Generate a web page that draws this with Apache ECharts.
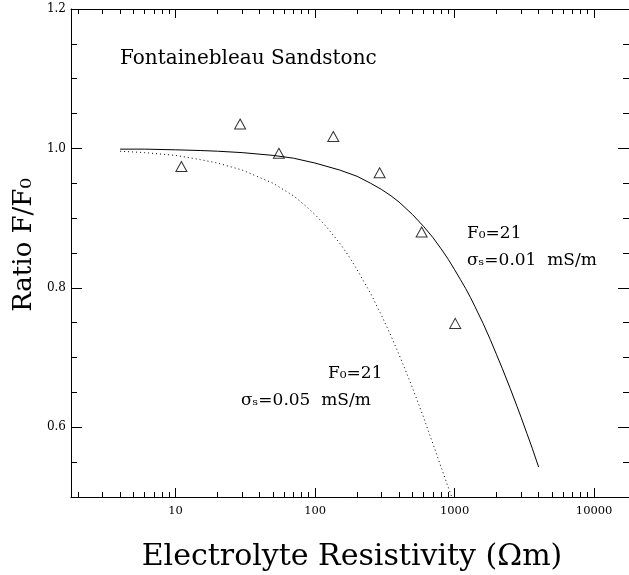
<!DOCTYPE html>
<html>
<head>
<meta charset="utf-8">
<script src="https://cdn.jsdelivr.net/npm/echarts@6/dist/echarts.min.js"></script>
<style>
  html, body { margin: 0; padding: 0; background: #fff; }
  #chart { width: 629px; height: 575px; }
</style>
</head>
<body>
<div id="chart"></div>
<script>
// ---- Data ----
// Measured ratio F/F0 (open triangles)
var measuredX = [11, 29, 55, 135, 290, 580, 1010];
var measuredY = [0.974, 1.035, 0.993, 1.017, 0.965, 0.880, 0.749];

// Solid curve: F0=21, sigma_s = 0.01 mS/m
var curve1X = [4, 6, 10, 15, 20, 30, 50, 70, 100, 150, 200, 250, 300, 350, 400, 500, 600, 700, 800, 900, 1000, 1100, 1200, 1300, 1400, 1600, 1800, 2000, 2200, 2500, 2800, 3000, 3300, 3600, 4000];
var curve1Y = [0.999, 0.999, 0.998, 0.997, 0.996, 0.994, 0.990, 0.986, 0.979, 0.969, 0.960, 0.950, 0.941, 0.932, 0.923, 0.905, 0.888, 0.872, 0.856, 0.841, 0.826, 0.812, 0.799, 0.786, 0.773, 0.749, 0.726, 0.704, 0.684, 0.656, 0.630, 0.614, 0.591, 0.570, 0.543];

// Dotted curve: F0=21, sigma_s = 0.05 mS/m
var curve2X = [4, 6, 10, 15, 20, 30, 50, 70, 85, 100, 120, 150, 175, 200, 250, 300, 350, 400, 450, 500, 550, 600, 650, 700, 750, 800, 850, 900, 950];
var curve2Y = [0.996, 0.994, 0.990, 0.984, 0.979, 0.969, 0.950, 0.932, 0.918, 0.905, 0.888, 0.864, 0.845, 0.826, 0.792, 0.760, 0.731, 0.704, 0.679, 0.656, 0.634, 0.614, 0.594, 0.576, 0.559, 0.543, 0.528, 0.514, 0.501];

// Axis ticks
var xMajorTicks = [10, 100, 1000, 10000];
var xMinorTicks = [2, 3, 4, 5, 6, 7, 8, 9, 20, 30, 40, 50, 60, 70, 80, 90,
                   200, 300, 400, 500, 600, 700, 800, 900,
                   2000, 3000, 4000, 5000, 6000, 7000, 8000, 9000];
var yMajorTicks = [0.6, 0.8, 1.0, 1.2];
var yMinorTicks = [0.55, 0.65, 0.7, 0.75, 0.85, 0.9, 0.95, 1.05, 1.1, 1.15];

var xMin = 1.7783, xMax = 17783;
var yMin = 0.5, yMax = 1.2;

var FONT = 'DejaVu Serif';

function zip(xs, ys) { return xs.map(function (x, i) { return [x, ys[i]]; }); }

var chart = echarts.init(document.getElementById('chart'), null, { renderer: 'canvas' });

function xAx(pos, ticks, len, showLine, showLabel) {
  return {
    type: 'log', logBase: 10, min: xMin, max: xMax, position: pos, gridIndex: 0,
    axisLine: { show: showLine, lineStyle: { color: '#000', width: 1 } },
    axisTick: { show: true, inside: true, length: len, customValues: ticks, lineStyle: { color: '#000', width: 1 } },
    axisLabel: { show: showLabel, customValues: xMajorTicks, margin: 8, color: '#000', fontFamily: FONT, fontSize: 11.5,
      formatter: function (v) { return String(Math.round(v)); } },
    splitLine: { show: false }, minorTick: { show: false }
  };
}
function yAx(pos, ticks, len, showLine, showLabel) {
  return {
    type: 'value', min: yMin, max: yMax, interval: 0.1, position: pos, gridIndex: 0,
    axisLine: { show: showLine, lineStyle: { color: '#000', width: 1 } },
    axisTick: { show: true, inside: true, length: len, customValues: ticks, lineStyle: { color: '#000', width: 1 } },
    axisLabel: { show: showLabel, customValues: yMajorTicks, margin: 5, color: '#000', fontFamily: FONT, fontSize: 12,
      formatter: function (v) { return v.toFixed(1); } },
    splitLine: { show: false }
  };
}

var option = {
  animation: false,
  backgroundColor: '#fff',
  grid: { left: 71, top: 9, width: 560, height: 488, containLabel: false },
  xAxis: [
    xAx('bottom', xMajorTicks, 9, true, true),
    xAx('bottom', xMinorTicks, 5, false, false),
    xAx('top', xMajorTicks, 9, true, false),
    xAx('top', xMinorTicks, 5, false, false)
  ],
  yAxis: [
    yAx('left', yMajorTicks, 11, true, true),
    yAx('left', yMinorTicks, 6, false, false),
    yAx('right', yMajorTicks, 11, true, false),
    yAx('right', yMinorTicks, 6, false, false)
  ],
  series: [
    {
      type: 'line', xAxisIndex: 0, yAxisIndex: 0,
      data: zip(curve1X, curve1Y), showSymbol: false, smooth: false,
      lineStyle: { color: '#000', width: 1 }
    },
    {
      type: 'line', xAxisIndex: 0, yAxisIndex: 0,
      data: zip(curve2X, curve2Y), showSymbol: false, smooth: false,
      lineStyle: { color: '#000', width: 1, type: [1, 3] }
    },
    {
      type: 'scatter', xAxisIndex: 0, yAxisIndex: 0,
      data: zip(measuredX, measuredY), symbol: 'triangle', symbolSize: [11, 10],
      itemStyle: { color: '#fff', borderColor: '#000', borderWidth: 1 }
    }
  ],
  graphic: [
    { type: 'text', left: 120, top: 49, style: { text: 'Fontainebleau Sandstonc', font: '20px "DejaVu Serif"', fill: '#000' } },
    { type: 'text', left: 467, top: 225, style: { text: 'F\u2080=21', font: '17px "DejaVu Serif"', fill: '#000' } },
    { type: 'text', left: 467, top: 252, style: { text: '\u03c3\u209b=0.01  mS/m', font: '17px "DejaVu Serif"', fill: '#000' } },
    { type: 'text', left: 328, top: 365, style: { text: 'F\u2080=21', font: '17px "DejaVu Serif"', fill: '#000' } },
    { type: 'text', left: 241, top: 392, style: { text: '\u03c3\u209b=0.05  mS/m', font: '17px "DejaVu Serif"', fill: '#000' } },
    { type: 'text', x: 24, y: 245, rotation: Math.PI / 2,
      style: { text: 'Ratio F/F\u2080', font: '26px "DejaVu Serif"', fill: '#000', align: 'center', verticalAlign: 'middle' } },
    { type: 'text', x: 352, y: 557,
      style: { text: 'Electrolyte Resistivity (\u03a9m)', font: '30px "DejaVu Serif"', fill: '#000', align: 'center', verticalAlign: 'middle' } }
  ]
};
chart.setOption(option);
</script>
</body>
</html>
